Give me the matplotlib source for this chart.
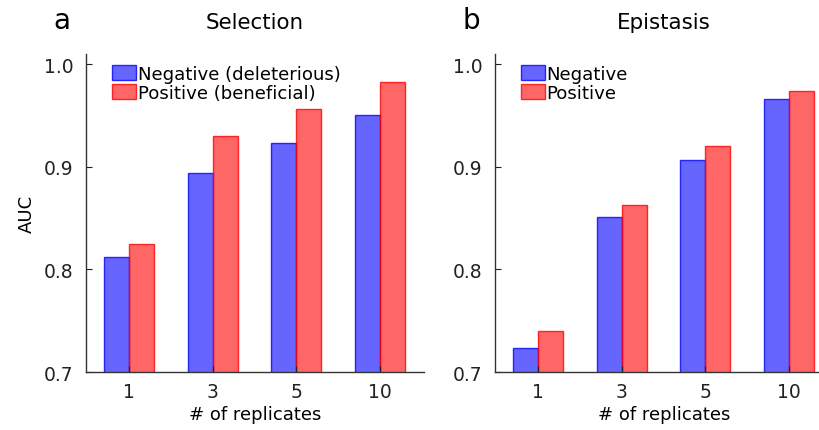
import numpy as np
import matplotlib.pyplot as plt

plt.rcParams['font.family'] = ['DejaVu Sans']

replicates = ["1", "3", "5", "10"]

sel_negative = [0.812, 0.894, 0.923, 0.951]
sel_positive = [0.825, 0.930, 0.956, 0.983]

epi_negative = [0.723, 0.851, 0.907, 0.966]
epi_positive = [0.740, 0.863, 0.920, 0.974]

panels = [
    ("a", "Selection", sel_negative, sel_positive,
     ["Negative (deleterious)", "Positive (beneficial)"]),
    ("b", "Epistasis", epi_negative, epi_positive,
     ["Negative", "Positive"]),
]

W, H = 820, 431
fig = plt.figure(figsize=(W / 100, H / 100), dpi=100)

# axes boxes in pixels: left, bottom(from top), width, height
boxes = [(86, 373, 338, 318), (495, 373, 338, 318)]

x = np.arange(len(replicates))
bw = 0.3

for (letter, title, neg, pos, labels), (l, b, w, h) in zip(panels, boxes):
    ax = fig.add_axes([l / W, (H - b) / H, w / W, h / H])
    ax.bar(x - bw / 2, neg, bw, color=(0, 0, 1, 0.6),
           edgecolor=(0, 0, 1, 0.8), linewidth=1, label=labels[0])
    ax.bar(x + bw / 2, pos, bw, color=(1, 0, 0, 0.6),
           edgecolor=(1, 0, 0, 0.8), linewidth=1, label=labels[1])
    ax.set_ylim(0.7, 1.01)
    ax.set_xlim(-0.52, 3.53)
    ax.set_xticks(x)
    ax.set_xticklabels(replicates)
    ax.set_yticks([0.7, 0.8, 0.9, 1.0])
    ax.set_yticklabels(["0.7", "0.8", "0.9", "1.0"])
    ax.tick_params(direction="in", length=4, labelsize=13.5, colors="#222222",
                   pad=7)
    ax.tick_params(axis="y", pad=9)
    for s in ["top", "right"]:
        ax.spines[s].set_visible(False)
    for s in ["left", "bottom"]:
        ax.spines[s].set_color("#333333")
        ax.spines[s].set_linewidth(1)
    ax.set_xlabel("# of replicates", fontsize=13, labelpad=3)
    ax.set_title(title, fontsize=15.4, pad=19)
    ax.legend(loc="upper left", frameon=False, fontsize=13.1,
              handlelength=1.3, handleheight=0.9, handletextpad=0.1,
              labelspacing=0.05, borderaxespad=0.2,
              bbox_to_anchor=(0.045, 1.0))
    fig.text((l - 24) / W, 1 - 21 / H, letter, fontsize=20,
             ha="center", va="center")
    if letter == "a":
        ax.set_ylabel("AUC", fontsize=13, labelpad=6)

fig.savefig("out.png", dpi=100)
